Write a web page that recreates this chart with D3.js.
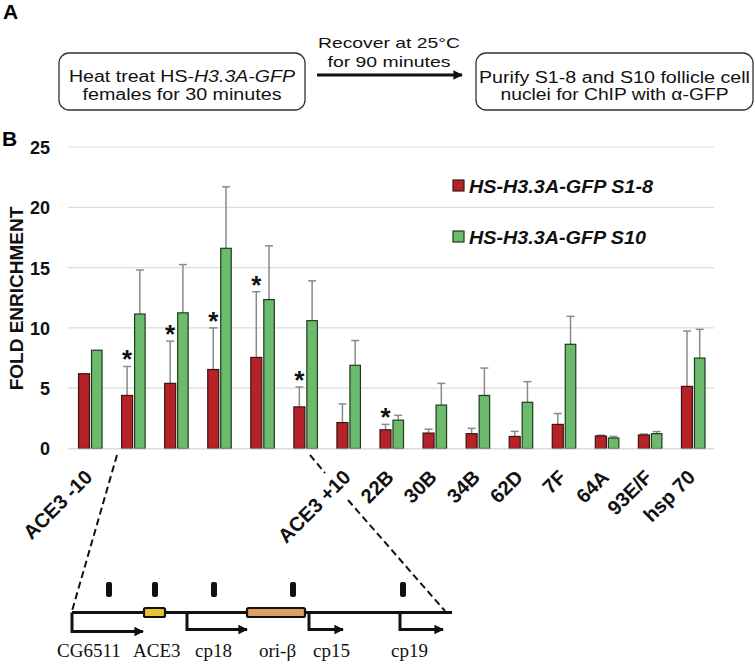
<!DOCTYPE html>
<html><head><meta charset="utf-8">
<script src="https://cdn.jsdelivr.net/npm/d3@7"></script>
<style>body{margin:0;background:#fff;} svg{display:block;}</style>
</head><body>
<svg id="fig" width="755" height="664"></svg>
<script>
// ---- data ----
const categoryIds = ["c1","c2","c3","c4","c5","c6","c7","c8","c9","c10","c11","c12","c13","c14","c15"];
const tickLabels = ["ACE3 -10","","","","","","ACE3 +10","22B","30B","34B","62D","7F","64A","93E/F","hsp 70"];
const seriesNames = ["HS-H3.3A-GFP S1-8","HS-H3.3A-GFP S10"];
const valuesS18 = [6.2, 4.4, 5.4, 6.55, 7.55, 3.45, 2.15, 1.55, 1.28, 1.23, 1.0, 2.0, 1.04, 1.12, 5.15];
const valuesS10 = [8.15, 11.15, 11.25, 16.6, 12.35, 10.6, 6.9, 2.35, 3.6, 4.4, 3.83, 8.64, 0.87, 1.23, 7.5];
const errS18 = [0, 2.4, 3.5, 3.45, 5.45, 1.65, 1.55, 0.45, 0.32, 0.44, 0.42, 0.9, 0.06, 0.08, 4.59];
const errS10 = [0, 3.65, 4.0, 5.1, 4.45, 3.3, 2.05, 0.4, 1.8, 2.27, 1.71, 2.32, 0.13, 0.17, 2.38];
const significant = [false, true, true, true, true, true, false, true, false, false, false, false, false, false, false];
const yTicks = [0, 5, 10, 15, 20, 25];
const genes = [
  {name:"CG6511", tss:0, end:71},
  {name:"cp18", tss:115, end:175},
  {name:"cp15", tss:237, end:271},
  {name:"cp19", tss:328, end:371}
];
const elements = [
  {name:"ACE3", start:72, end:93, color:"#e6c630"},
  {name:"ori-β", start:175, end:233, color:"#e0a062"}
];
const primers = [37, 83, 142, 221, 331];
const diagramLabels = [
  {text:"CG6511", x:57}, {text:"ACE3", x:133}, {text:"cp18", x:195},
  {text:"ori-β", x:259}, {text:"cp15", x:313}, {text:"cp19", x:391}
];

const svg = d3.select("#fig");
svg.append("rect").attr("width",755).attr("height",664).attr("fill","#fff");
const sans = "'Liberation Sans', Arial, sans-serif";
const defs = svg.append("defs");

// ---- Panel A ----
svg.append("text").text("A").attr("x",3).attr("y",19).attr("font-family",sans)
  .attr("font-weight","bold").attr("font-size",21);

function stretchedText(x, y, parts, len, size){
  const t = svg.append("text").attr("x", x).attr("y", y)
    .attr("text-anchor","middle").attr("font-family",sans).attr("font-size",size).attr("fill","#111")
    .attr("textLength",len).attr("lengthAdjust","spacingAndGlyphs");
  parts.forEach(p => t.append("tspan").text(p.t).attr("font-style", p.i ? "italic" : "normal"));
  return t;
}
function box(x, y, w, h, lines){
  svg.append("rect").attr("x",x).attr("y",y).attr("width",w).attr("height",h)
    .attr("rx",10).attr("fill","#fff").attr("stroke","#333").attr("stroke-width",1.3);
  lines.forEach(ln => stretchedText(x + w/2, ln.y, ln.parts, ln.len, 16));
}
box(59, 53, 246, 57, [
  {y:82, len:226, parts:[{t:"Heat treat HS-"},{t:"H3.3A-GFP", i:true}]},
  {y:100, len:199, parts:[{t:"females for 30 minutes"}]}
]);
box(476, 53, 277, 57, [
  {y:83, len:271, parts:[{t:"Purify S1-8 and S10 follicle cell"}]},
  {y:100, len:228, parts:[{t:"nuclei for ChIP with α-GFP"}]}
]);
stretchedText(389, 48, [{t:"Recover at 25°C"}], 142, 15);
stretchedText(389, 66.5, [{t:"for 90 minutes"}], 123, 15);
defs.append("marker").attr("id","ah").attr("viewBox","0 0 10 10")
  .attr("refX",9).attr("refY",5).attr("markerWidth",4).attr("markerHeight",3.2).attr("orient","auto")
  .append("path").attr("d","M0,0 L10,5 L0,10 z").attr("fill","#111");
svg.append("line").attr("x1",317).attr("x2",462).attr("y1",75).attr("y2",75)
  .attr("stroke","#111").attr("stroke-width",3).attr("marker-end","url(#ah)");

// ---- Panel B ----
svg.append("text").text("B").attr("x",2).attr("y",146).attr("font-family",sans)
  .attr("font-weight","bold").attr("font-size",21);

const x = d3.scaleBand().domain(categoryIds).range([68, 714]).padding(0);
const y = d3.scaleLinear().domain([0, 25]).range([448.5, 147]);

// gridlines
svg.append("g").selectAll("line").data(yTicks).join("line")
  .attr("x1",68).attr("x2",714).attr("y1",d=>y(d)).attr("y2",d=>y(d))
  .attr("stroke","#dcdcdc").attr("stroke-width",1.2);

// y axis labels
const yAxis = d3.axisLeft(y).tickValues(yTicks).tickSize(0).tickPadding(0);
const yg = svg.append("g").attr("transform","translate(50,0)").call(yAxis);
yg.select(".domain").remove();
yg.selectAll("text").attr("font-family",sans).attr("font-weight","bold").attr("font-size",18).attr("fill","#111").attr("dy","0.36em");

svg.append("text").text("FOLD ENRICHMENT").attr("transform","translate(23,298.5) rotate(-90)")
  .attr("text-anchor","middle").attr("font-family",sans).attr("font-weight","bold").attr("font-size",19).attr("fill","#111");

const cx = i => x(categoryIds[i]) + x.bandwidth()/2;
const barData = [];
categoryIds.forEach((c, i) => {
  barData.push({i, v: valuesS18[i], e: errS18[i], x0: cx(i) - 11, w: 11, fill:"#b52227", stroke:"#3b1414"});
  barData.push({i, v: valuesS10[i], e: errS10[i], x0: cx(i) + 2, w: 10.5, fill:"#6cbb6c", stroke:"#1f3a1f"});
});

// error bars (drawn behind bars)
const eb = svg.append("g");
barData.filter(d => d.e > 0).forEach(d => {
  const mx = d.x0 + d.w/2;
  eb.append("line").attr("x1",mx).attr("x2",mx).attr("y1",y(d.v)).attr("y2",y(d.v + d.e))
    .attr("stroke","#8a8a8a").attr("stroke-width",1.5);
  eb.append("line").attr("x1",mx-4).attr("x2",mx+4).attr("y1",y(d.v + d.e)).attr("y2",y(d.v + d.e))
    .attr("stroke","#8a8a8a").attr("stroke-width",1.5);
});

svg.append("g").selectAll("rect").data(barData).join("rect")
  .attr("x",d=>d.x0).attr("width",d=>d.w)
  .attr("y",d=>y(d.v)).attr("height",d=>y(0)-y(d.v))
  .attr("fill",d=>d.fill).attr("stroke",d=>d.stroke).attr("stroke-width",1.2);

// stars
svg.append("g").selectAll("text").data(categoryIds.map((c,i)=>i).filter(i=>significant[i])).join("text")
  .text("*").attr("x", i => cx(i) - 5.5).attr("y", i => y(valuesS18[i] + errS18[i]) + 2)
  .attr("text-anchor","middle").attr("font-family",sans).attr("font-weight","bold").attr("font-size",26).attr("fill","#111");

// x tick labels
const xAxis = d3.axisBottom(x).tickSize(0).tickFormat((d, i) => tickLabels[i]);
const xg = svg.append("g").attr("transform","translate(0,448.5)").call(xAxis);
xg.select(".domain").attr("stroke","#dcdcdc").attr("stroke-width",1.2);
xg.selectAll("text").attr("font-family",sans).attr("font-weight","bold").attr("font-size",20).attr("fill","#111")
  .attr("text-anchor","end").attr("dy",null).attr("y",0)
  .attr("transform","translate(4,30) rotate(-45)");

// legend
const lg = svg.append("g");
[{y:180, c:"#b52227", s:"#3b1414", len:184}, {y:231, c:"#6cbb6c", s:"#1f3a1f", len:177}].forEach((d, k) => {
  lg.append("rect").attr("x",453).attr("y",d.y).attr("width",11).attr("height",11)
    .attr("fill",d.c).attr("stroke",d.s).attr("stroke-width",1.2);
  lg.append("text").text(seriesNames[k]).attr("x",469).attr("y",d.y + 13)
    .attr("font-family",sans).attr("font-weight","bold").attr("font-style","italic").attr("font-size",19)
    .attr("textLength",d.len).attr("lengthAdjust","spacingAndGlyphs").attr("fill","#111");
});

// dashed zoom lines
function dline(x1,y1,x2,y2){
  svg.append("line").attr("x1",x1).attr("y1",y1).attr("x2",x2).attr("y2",y2)
    .attr("stroke","#111").attr("stroke-width",2).attr("stroke-dasharray","7,4");
}
dline(117,455,72,611);
dline(310,455,325,473);
dline(348,500,445,611);

// ---- gene diagram ----
const gx = d3.scaleLinear().domain([0, 380]).range([72, 452]);
const gY = 612.5;
const dg = svg.append("g");
dg.append("line").attr("x1",gx(0)).attr("x2",gx(380)).attr("y1",gY).attr("y2",gY).attr("stroke","#111").attr("stroke-width",3);
defs.append("marker").attr("id","ah2").attr("viewBox","0 0 10 10")
  .attr("refX",9).attr("refY",5).attr("markerWidth",3.6).attr("markerHeight",3.2).attr("orient","auto")
  .append("path").attr("d","M0,0 L10,5 L0,10 z").attr("fill","#111");
genes.forEach((g, k) => {
  const dy = k === 0 ? 19 : 17;
  dg.append("path").attr("d",`M${gx(g.tss)},${gY} V${gY+dy} H${gx(g.end)}`)
    .attr("fill","none").attr("stroke","#111").attr("stroke-width",3).attr("marker-end","url(#ah2)");
});
elements.forEach(e => {
  dg.append("rect").attr("x",gx(e.start)).attr("y",gY-4.5).attr("width",gx(e.end)-gx(e.start)).attr("height",9)
    .attr("rx",1.5).attr("fill",e.color).attr("stroke","#111").attr("stroke-width",2.2);
});
dg.selectAll("rect.pr").data(primers).join("rect").attr("class","pr")
  .attr("x",d=>gx(d)-3).attr("y",582).attr("width",6).attr("height",15).attr("rx",2).attr("fill","#111");
dg.selectAll("text").data(diagramLabels).join("text")
  .text(d=>d.text).attr("x",d=>d.x).attr("y",657)
  .attr("font-family","'Liberation Serif','Times New Roman',serif").attr("font-size",19).attr("fill","#111");
</script>
</body></html>
